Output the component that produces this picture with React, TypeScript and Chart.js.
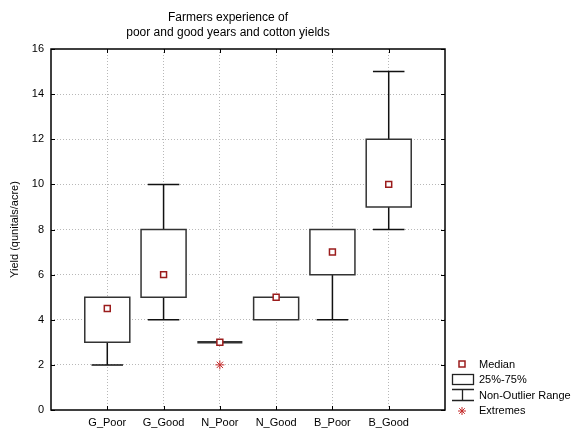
import React, { useEffect, useRef } from "react";
import { Chart, registerables } from "chart.js";

Chart.register(...registerables);

const categories = ["G_Poor", "G_Good", "N_Poor", "N_Good", "B_Poor", "B_Good"];
const whiskerLow = [2, 4, 3, 4, 4, 8];
const quartile1 = [3, 5, 3, 4, 6, 9];
const medians = [4.5, 6, 3, 5, 7, 10];
const quartile3 = [5, 8, 3, 5, 8, 12];
const whiskerHigh = [5, 10, 3, 5, 8, 15];
const extremeCategory = ["N_Poor"];
const extremeValues = [2];
const yTicks = [0, 2, 4, 6, 8, 10, 12, 14, 16];
const titleLines = ["Farmers experience of", "poor and good years and cotton yields"];
const yTitle = "Yield (qunitals/acre)";
const legendLabels = ["Median", "25%-75%", "Non-Outlier Range", "Extremes"];

const FONT = "Liberation Sans, Arial, sans-serif";
const MEDIAN_COLOR = "#9b1c1c";
const EXTREME_COLOR = "#c42b2b";

const boxPlugin = {
  id: "boxPlugin",
  beforeDatasetsDraw(chart: any) {
    const { ctx, scales } = chart;
    const xs = scales.x;
    const ys = scales.y;
    const slot = xs.getPixelForValue(1) - xs.getPixelForValue(0);
    const boxHalf = slot * 0.4;
    const capHalf = slot * 0.28;
    ctx.save();
    categories.forEach((_, i) => {
      const cx = xs.getPixelForValue(i + 1);
      const yLow = ys.getPixelForValue(whiskerLow[i]);
      const yQ1 = ys.getPixelForValue(quartile1[i]);
      const yQ3 = ys.getPixelForValue(quartile3[i]);
      const yHigh = ys.getPixelForValue(whiskerHigh[i]);
      ctx.strokeStyle = "#111";
      ctx.lineWidth = 1.5;
      ctx.beginPath();
      if (whiskerLow[i] < quartile1[i]) {
        ctx.moveTo(cx, yQ1);
        ctx.lineTo(cx, yLow);
        ctx.moveTo(cx - capHalf, yLow);
        ctx.lineTo(cx + capHalf, yLow);
      }
      if (whiskerHigh[i] > quartile3[i]) {
        ctx.moveTo(cx, yQ3);
        ctx.lineTo(cx, yHigh);
        ctx.moveTo(cx - capHalf, yHigh);
        ctx.lineTo(cx + capHalf, yHigh);
      }
      ctx.stroke();
      ctx.fillStyle = "#fff";
      ctx.fillRect(cx - boxHalf, yQ3, boxHalf * 2, yQ1 - yQ3);
      ctx.strokeStyle = "#333";
      ctx.lineWidth = quartile1[i] === quartile3[i] ? 2.5 : 1.5;
      ctx.beginPath();
      if (quartile1[i] === quartile3[i]) {
        ctx.moveTo(cx - boxHalf, yQ1);
        ctx.lineTo(cx + boxHalf, yQ1);
      } else {
        ctx.rect(cx - boxHalf, yQ3, boxHalf * 2, yQ1 - yQ3);
      }
      ctx.stroke();
    });
    ctx.restore();
  },
  afterDraw(chart: any) {
    const { ctx, chartArea, scales } = chart;
    const xs = scales.x;
    const ys = scales.y;
    ctx.save();
    ctx.strokeStyle = "#000";
    ctx.lineWidth = 1.5;
    ctx.strokeRect(chartArea.left, chartArea.top, chartArea.right - chartArea.left, chartArea.bottom - chartArea.top);
    ctx.lineWidth = 1;
    ctx.beginPath();
    categories.forEach((_, i) => {
      const x = Math.round(xs.getPixelForValue(i + 1)) + 0.5;
      ctx.moveTo(x, chartArea.bottom);
      ctx.lineTo(x, chartArea.bottom - 4);
      ctx.moveTo(x, chartArea.top);
      ctx.lineTo(x, chartArea.top + 4);
    });
    yTicks.forEach((v) => {
      const y = Math.round(ys.getPixelForValue(v)) + 0.5;
      ctx.moveTo(chartArea.left, y);
      ctx.lineTo(chartArea.left + 4, y);
      ctx.moveTo(chartArea.right, y);
      ctx.lineTo(chartArea.right - 4, y);
    });
    ctx.stroke();

    ctx.fillStyle = "#000";
    ctx.font = `12px ${FONT}`;
    ctx.textAlign = "center";
    ctx.textBaseline = "middle";
    ctx.fillText(titleLines[0], 228, 18);
    ctx.fillText(titleLines[1], 228, 33);

    ctx.font = `11px ${FONT}`;
    const lx = 462;
    ctx.textAlign = "left";
    ctx.fillStyle = "#fff";
    ctx.strokeStyle = MEDIAN_COLOR;
    ctx.lineWidth = 1.5;
    ctx.fillRect(lx - 3, 364 - 3, 6, 6);
    ctx.strokeRect(lx - 3, 364 - 3, 6, 6);
    ctx.strokeStyle = "#222";
    ctx.lineWidth = 1.3;
    ctx.strokeRect(452.5, 374.5, 21, 10);
    ctx.beginPath();
    ctx.moveTo(452, 389.5);
    ctx.lineTo(474, 389.5);
    ctx.moveTo(462.5, 389.5);
    ctx.lineTo(462.5, 400.5);
    ctx.moveTo(452, 400.5);
    ctx.lineTo(474, 400.5);
    ctx.stroke();
    ctx.strokeStyle = EXTREME_COLOR;
    ctx.lineWidth = 1;
    ctx.beginPath();
    const r = 4;
    ctx.moveTo(lx - r, 411);
    ctx.lineTo(lx + r, 411);
    ctx.moveTo(lx, 411 - r);
    ctx.lineTo(lx, 411 + r);
    ctx.moveTo(lx - r * 0.7, 411 - r * 0.7);
    ctx.lineTo(lx + r * 0.7, 411 + r * 0.7);
    ctx.moveTo(lx - r * 0.7, 411 + r * 0.7);
    ctx.lineTo(lx + r * 0.7, 411 - r * 0.7);
    ctx.stroke();
    ctx.fillStyle = "#000";
    ctx.fillText(legendLabels[0], 479, 365);
    ctx.fillText(legendLabels[1], 479, 380);
    ctx.fillText(legendLabels[2], 479, 396);
    ctx.fillText(legendLabels[3], 479, 411);
    ctx.restore();
  },
};

export default function App() {
  const ref = useRef<HTMLCanvasElement | null>(null);
  useEffect(() => {
    if (!ref.current) return;
    const chart = new Chart(ref.current, {
      type: "scatter",
      data: {
        datasets: [
          {
            label: "Median",
            data: medians.map((m, i) => ({ x: i + 1, y: m })),
            pointStyle: "rect",
            pointRadius: 4.2,
            pointHoverRadius: 4.2,
            backgroundColor: "#fff",
            borderColor: MEDIAN_COLOR,
            pointBorderWidth: 1.5,
          },
          {
            label: "Extremes",
            data: extremeValues.map((v, i) => ({ x: categories.indexOf(extremeCategory[i]) + 1, y: v })),
            pointStyle: "star",
            pointRadius: 4.5,
            pointHoverRadius: 4.5,
            backgroundColor: EXTREME_COLOR,
            borderColor: EXTREME_COLOR,
            pointBorderWidth: 1,
          },
        ],
      },
      options: {
        animation: false,
        responsive: false,
        devicePixelRatio: 1,
        layout: { padding: { top: 49, right: 128, left: 0, bottom: 0 } },
        plugins: { legend: { display: false }, tooltip: { enabled: false }, title: { display: false } },
        scales: {
          x: {
            type: "linear",
            min: 0,
            max: 7,
            afterFit: (s: any) => {
              s.height = 20;
            },
            afterBuildTicks: (s: any) => {
              s.ticks = [0, 1, 2, 3, 4, 5, 6, 7].map((v) => ({ value: v }));
            },
            ticks: {
              autoSkip: false,
              maxRotation: 0,
              padding: 6,
              color: "#000",
              font: { family: FONT, size: 11 },
              callback: (v: any) => categories[Number(v) - 1] ?? "",
            },
            grid: {
              drawTicks: false,
              color: (c: any) => (c.tick && c.tick.value > 0 && c.tick.value < 7 ? "#b8b8b8" : "rgba(0,0,0,0)"),
              lineWidth: 1,
            },
            border: { display: false, dash: [1, 2] },
          },
          y: {
            min: 0,
            max: 16,
            afterFit: (s: any) => {
              s.width = 51;
            },
            ticks: {
              stepSize: 2,
              padding: 7,
              color: "#000",
              font: { family: FONT, size: 11 },
            },
            title: {
              display: true,
              text: yTitle,
              color: "#000",
              font: { family: FONT, size: 11 },
              padding: { top: 8, bottom: 0 },
            },
            grid: {
              drawTicks: false,
              color: (c: any) => (c.tick && c.tick.value > 0 && c.tick.value < 16 ? "#b8b8b8" : "rgba(0,0,0,0)"),
              lineWidth: 1,
            },
            border: { display: false, dash: [1, 2] },
          },
        },
      },
      plugins: [boxPlugin],
    });
    return () => chart.destroy();
  }, []);
  return (
    <div style={{ position: "fixed", left: 0, top: 0, width: 573, height: 430, background: "#fff" }}>
      <canvas ref={ref} width={573} height={430} style={{ width: 573, height: 430 }} />
    </div>
  );
}
